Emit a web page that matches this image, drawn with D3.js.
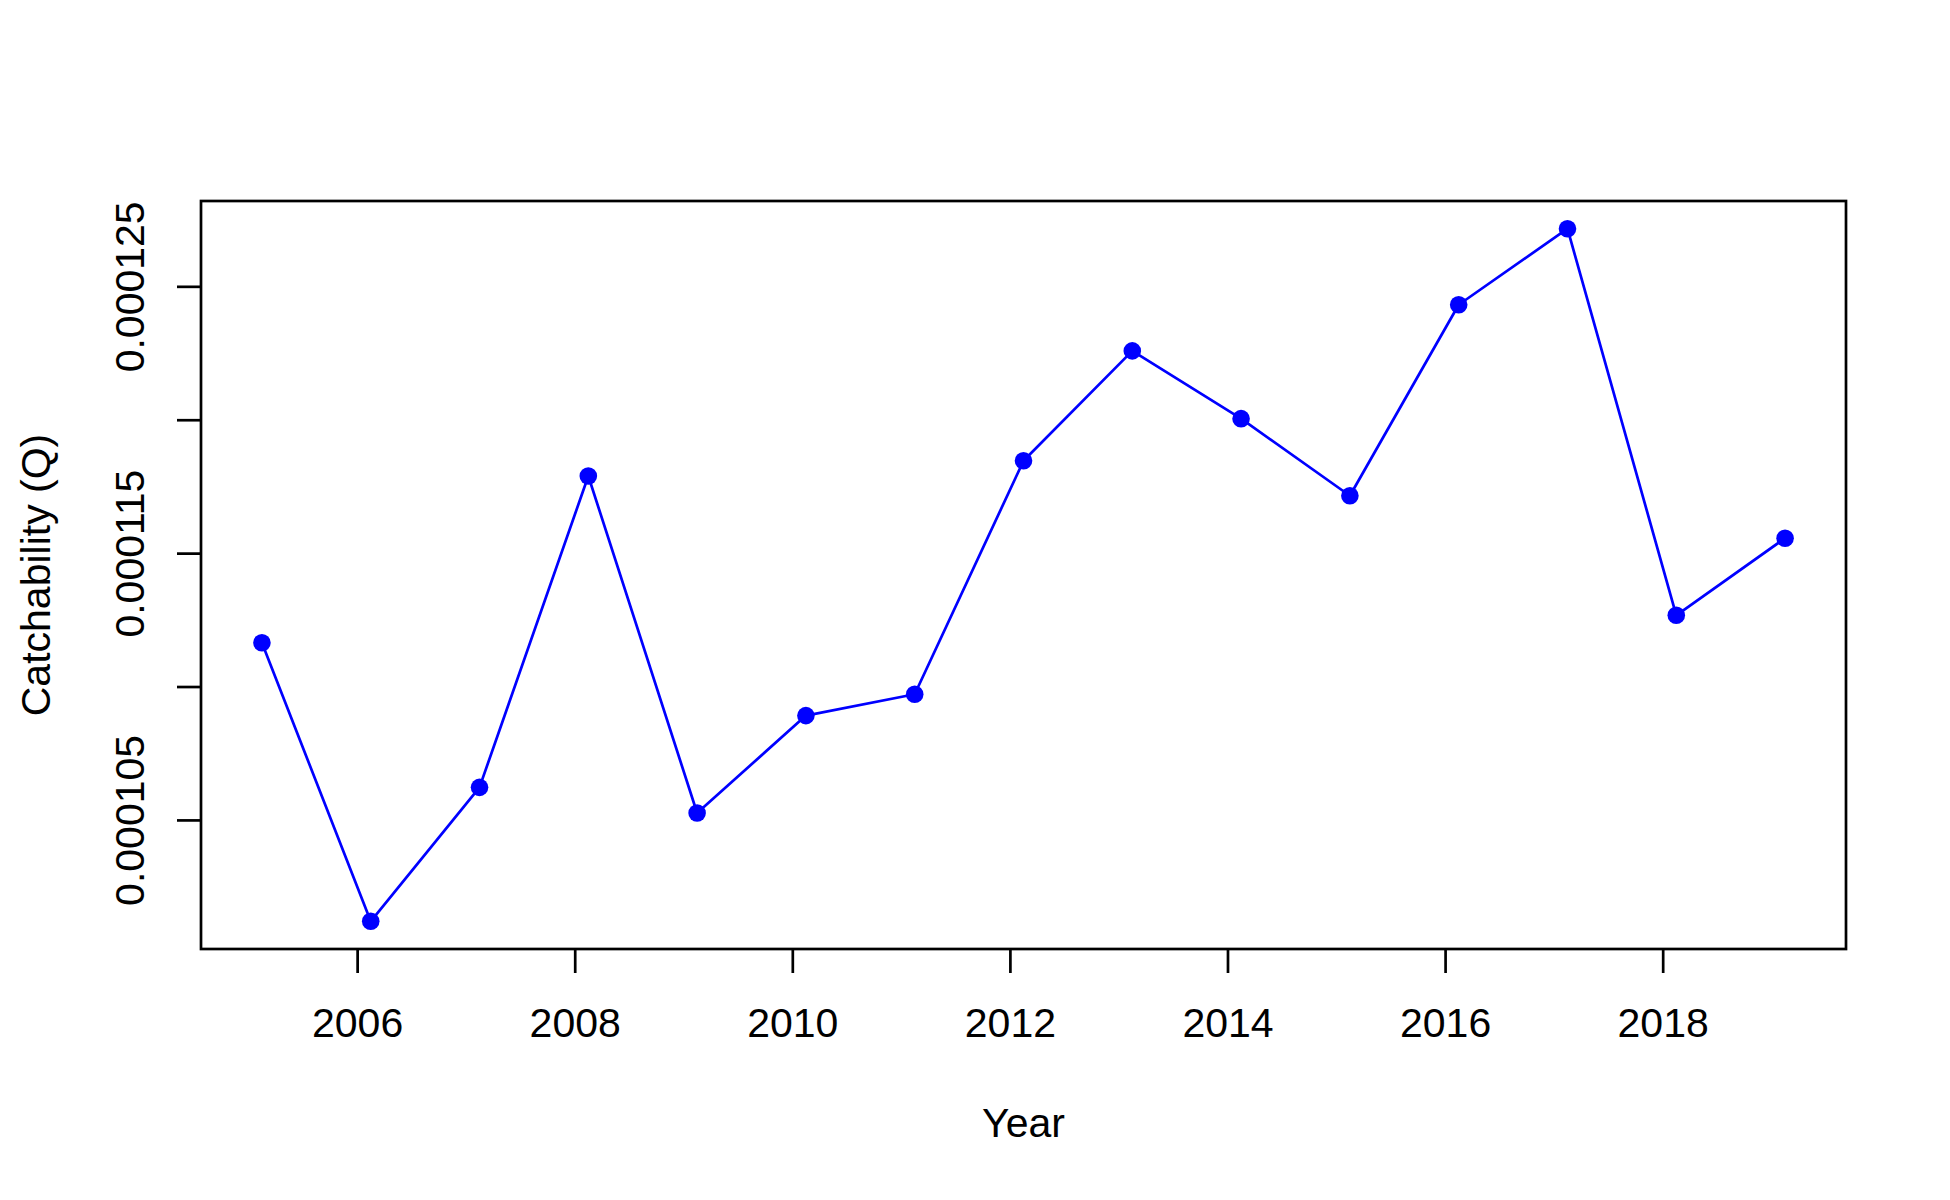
<!DOCTYPE html>
<html>
<head>
<meta charset="utf-8">
<script src="https://cdn.jsdelivr.net/npm/d3@7"></script>
<style>
  html, body { margin: 0; padding: 0; background: #ffffff; }
  svg { display: block; }
  text { font-family: "Liberation Sans", Arial, sans-serif; fill: #000000; }
</style>
</head>
<body>
<div id="chart"></div>
<script>
// ---- data ----
const years = [2005.125, 2006.125, 2007.125, 2008.125, 2009.125, 2010.125, 2011.125,
               2012.125, 2013.125, 2014.125, 2015.125, 2016.125, 2017.125, 2018.125, 2019.125];
const catchability = [0.00011164, 0.00010120, 0.00010622, 0.00011789, 0.00010526,
                      0.00010891, 0.00010971, 0.00011846, 0.00012258, 0.00012004,
                      0.00011715, 0.00012431, 0.00012716, 0.00011267, 0.00011556];
const xTicks = [2006, 2008, 2010, 2012, 2014, 2016, 2018];
const yTicks = [0.000105, 0.000110, 0.000115, 0.000120, 0.000125];
const yTickLabels = ["0.000105", "", "0.000115", "", "0.000125"];
const xTitle = "Year";
const yTitle = "Catchability (Q)";

// ---- layout ----
const W = 1950, H = 1200;
const margin = { top: 201, right: 104, bottom: 251, left: 201 };
const fontSize = 41;
const lw = 2.7;

const svg = d3.select("#chart").append("svg")
  .attr("width", W).attr("height", H)
  .attr("viewBox", `0 0 ${W} ${H}`);

// R-style 4% axis expansion
function rDomain(vals) {
  const [lo, hi] = d3.extent(vals);
  const pad = (hi - lo) * 0.04;
  return [lo - pad, hi + pad];
}

const x = d3.scaleLinear().domain(rDomain(years)).range([margin.left, W - margin.right]);
const y = d3.scaleLinear().domain(rDomain(catchability)).range([H - margin.bottom, margin.top]);

// x axis
const xAxis = svg.append("g")
  .attr("transform", `translate(0,${H - margin.bottom})`)
  .call(d3.axisBottom(x).tickValues(xTicks).tickSize(24).tickFormat(d3.format("d")));
xAxis.select(".domain").remove();
xAxis.selectAll(".tick line").attr("stroke", "#000").attr("stroke-width", lw);
xAxis.selectAll(".tick text")
  .attr("y", 88).attr("dy", 0)
  .attr("font-size", fontSize)
  .attr("font-family", "Liberation Sans, Arial, sans-serif")
  .attr("fill", "#000");

// y axis
const yAxis = svg.append("g")
  .attr("transform", `translate(${margin.left},0)`)
  .call(d3.axisLeft(y).tickValues(yTicks).tickSize(24)
        .tickFormat((d, i) => yTickLabels[i]));
yAxis.select(".domain").remove();
yAxis.selectAll(".tick line").attr("stroke", "#000").attr("stroke-width", lw);
yAxis.selectAll(".tick text")
  .attr("x", 0).attr("y", 0).attr("dy", 0)
  .attr("transform", "translate(-57.5,0) rotate(-90)")
  .attr("text-anchor", "middle")
  .attr("font-size", fontSize)
  .attr("font-family", "Liberation Sans, Arial, sans-serif")
  .attr("fill", "#000");

// line + points
const line = d3.line().x((d, i) => x(years[i])).y(d => y(d));
svg.append("path")
  .datum(catchability)
  .attr("d", line)
  .attr("fill", "none")
  .attr("stroke", "#0000ff")
  .attr("stroke-width", lw)
  .attr("stroke-linejoin", "round");

svg.append("g").selectAll("circle")
  .data(catchability)
  .join("circle")
  .attr("cx", (d, i) => x(years[i]))
  .attr("cy", d => y(d))
  .attr("r", 8.8)
  .attr("fill", "#0000ff");

// plot box
svg.append("rect")
  .attr("x", margin.left).attr("y", margin.top)
  .attr("width", W - margin.left - margin.right)
  .attr("height", H - margin.top - margin.bottom)
  .attr("fill", "none")
  .attr("stroke", "#000")
  .attr("stroke-width", lw);

// titles
svg.append("text")
  .attr("x", (margin.left + W - margin.right) / 2)
  .attr("y", 1136.7)
  .attr("text-anchor", "middle")
  .attr("font-size", fontSize)
  .text(xTitle);

svg.append("text")
  .attr("transform", `translate(50,${(margin.top + H - margin.bottom) / 2}) rotate(-90)`)
  .attr("text-anchor", "middle")
  .attr("font-size", fontSize)
  .text(yTitle);
</script>
</body>
</html>
